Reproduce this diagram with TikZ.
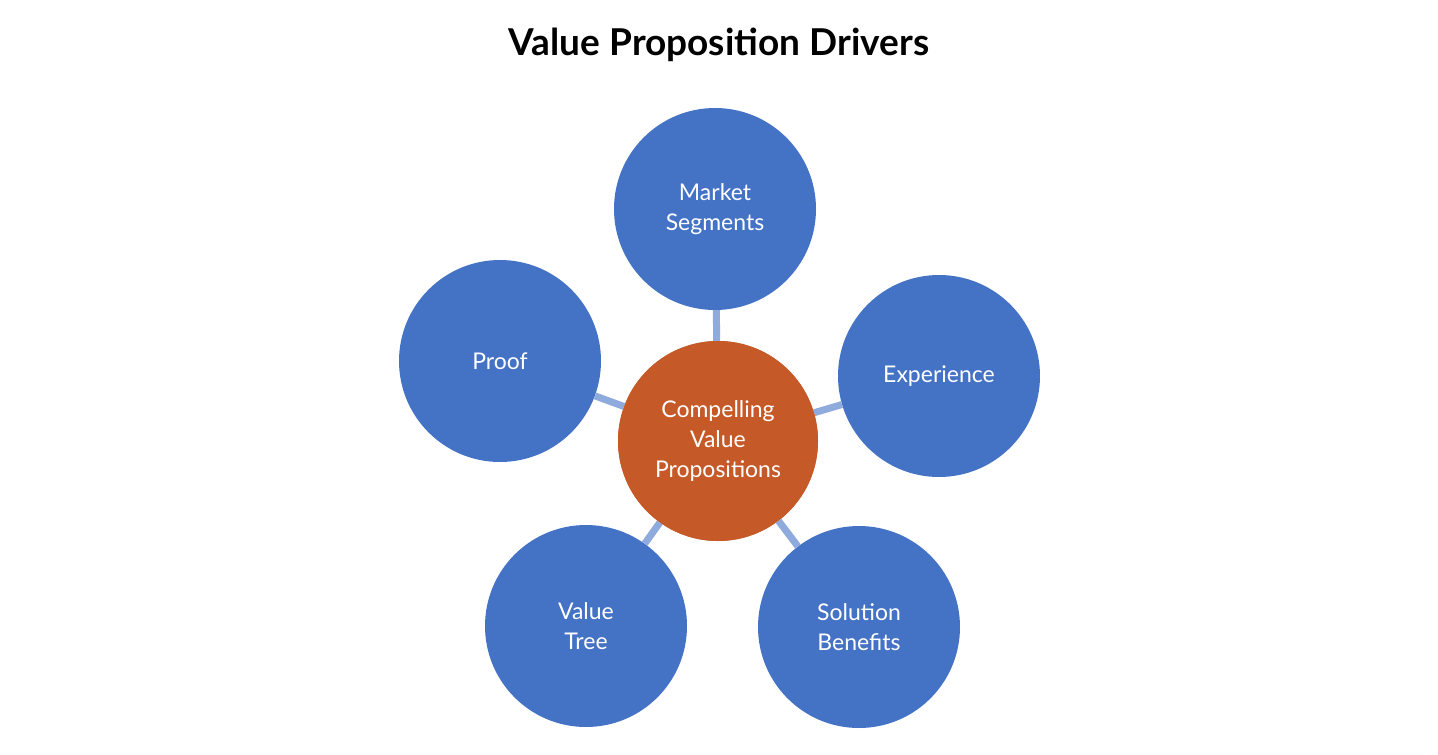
\documentclass[tikz,border=0pt]{standalone}
\usepackage{fontspec}
\setmainfont{Lato}
\begin{document}
\begin{tikzpicture}[x=1pt,y=-1pt,
  drv/.style={circle,fill=blue1,minimum size=202pt,inner sep=0pt,text=white,align=center,font=\fontsize{23}{30}\selectfont},
  hub/.style={circle,fill=orange1,minimum size=200pt,inner sep=0pt,text=white,align=center,font=\fontsize{23}{30}\selectfont},
  link/.style={draw=link1,line width=7pt}]
\definecolor{blue1}{HTML}{4472C4}
\definecolor{orange1}{HTML}{C55A28}
\definecolor{link1}{HTML}{8FAADC}
\useasboundingbox (0,0) rectangle (1438,755);
\node (title) at (719,45) {\fontsize{37}{44}\selectfont\bfseries Value Proposition Drivers};
\node[hub] (c) at (718,441) {};
\node[drv] (m) at (715,209) {Market\\Segments};
\node[drv] (e) at (939,376) {Experience};
\node[drv] (s) at (859,627) {Solution\\Benefits};
\node[drv] (v) at (586,626) {Value\\Tree};
\node[drv] (p) at (500,361) {Proof};
\foreach \n in {m,e,s,v,p} \draw[link] (c) -- (\n);
\node[hub] at (c) {Compelling\\Value\\Propositions};
\end{tikzpicture}
\end{document}
